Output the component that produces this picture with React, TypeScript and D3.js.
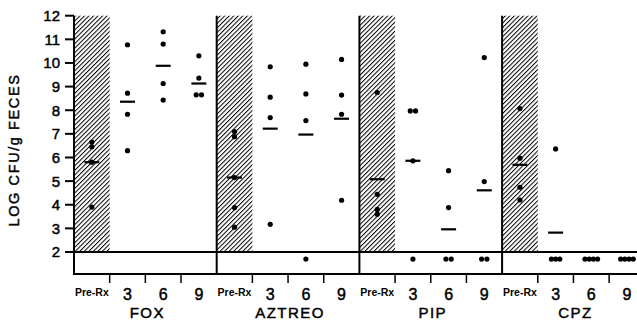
import React from "react";
import * as d3 from "d3";

const panels = ["FOX", "AZTREO", "PIP", "CPZ"];
const days = ["Pre-Rx", "3", "6", "9"];
const yTicks = [2, 3, 4, 5, 6, 7, 8, 9, 10, 11, 12];

const foxPoints = [[6.65, 6.45, 5.8, 3.9], [10.77, 8.72, 7.83, 6.29], [11.32, 10.8, 9.13, 8.43], [10.3, 9.36, 8.65, 8.65]];
const foxMeans = [5.8, 8.36, 9.88, 9.13];
const aztreoPoints = [[7.1, 6.88, 5.15, 3.88, 3.05], [9.84, 8.55, 7.69, 3.17], [9.95, 8.69, 7.56, 1.7], [10.15, 8.64, 7.83, 4.19]];
const aztreoMeans = [5.15, 7.22, 6.97, 7.64];
const pipPoints = [[8.75, 4.44, 3.8, 3.6], [7.97, 7.97, 5.86, 1.7], [5.44, 3.88, 1.7, 1.7], [10.23, 4.98, 1.7, 1.7]];
const pipMeans = [5.08, 5.86, 2.96, 4.61];
const cpzPoints = [[8.07, 5.97, 4.74, 4.2], [6.36, 1.7, 1.7, 1.7], [1.7, 1.7, 1.7, 1.7], [1.7, 1.7, 1.7, 1.7]];
const cpzMeans = [5.69, 2.82, null, null];

const allPoints = [foxPoints, aztreoPoints, pipPoints, cpzPoints];
const allMeans = [foxMeans, aztreoMeans, pipMeans, cpzMeans];

const W = 637;
const H = 321;
const left = 74;
const panelW = 142.7;
const top = 15.7;
const base = 252;
const boxBottom = 274;
const font = "'Liberation Sans', Arial, Helvetica, sans-serif";
const textStroke = { stroke: "#000", strokeWidth: 0.45 };

export default function App() {
  const y = d3.scaleLinear().domain([2, 12]).range([base, top]);
  const px = d3.scaleBand<string>().domain(panels).range([left, left + panelW * 4]).paddingInner(0).paddingOuter(0);
  const cx = d3.scaleBand<string>().domain(days).range([0, panelW]);

  return (
    <svg width={W} height={H} style={{ position: "absolute", left: 0, top: 0, background: "#fff" }}>
      <defs>
        <pattern id="hatch" patternUnits="userSpaceOnUse" width={3.2} height={3.2} patternTransform="rotate(45)">
          <rect width={3.2} height={3.2} fill="#fff" />
          <line x1={0} y1={0} x2={0} y2={3.2} stroke="#000" strokeWidth={2} />
        </pattern>
      </defs>

      {/* hatched pre-treatment columns */}
      {panels.map((p) => (
        <rect key={"h" + p} x={px(p)!} y={y(12)} width={cx.bandwidth()} height={y(2) - y(12)} fill="url(#hatch)" />
      ))}

      {/* y axis ticks */}
      {yTicks.map((t) => (
        <g key={"yt" + t}>
          <line x1={65} x2={left} y1={y(t)} y2={y(t)} stroke="#000" strokeWidth={2} />
          <text x={60} y={y(t)} dy="0.36em" textAnchor="end" fontFamily={font} fontSize={15} fill="#000" {...textStroke}>
            {t}
          </text>
        </g>
      ))}

      {/* baseline at 2 and bottom box */}
      <line x1={65} x2={W} y1={base} y2={base} stroke="#000" strokeWidth={2} />
      <line x1={left - 1} x2={W} y1={boxBottom} y2={boxBottom} stroke="#000" strokeWidth={2} />

      {/* panel separators */}
      {panels.map((p) => (
        <line key={"s" + p} x1={px(p)!} x2={px(p)!} y1={y(12)} y2={boxBottom} stroke="#000" strokeWidth={2} />
      ))}

      {/* category ticks and labels */}
      {panels.map((p) =>
        days.map((d, i) => {
          const x0 = px(p)! + cx(d)!;
          const mid = x0 + cx.bandwidth() / 2;
          return (
            <g key={"c" + p + d}>
              {i > 0 && <line x1={x0} x2={x0} y1={boxBottom} y2={283} stroke="#000" strokeWidth={1.5} />}
              {d === "Pre-Rx" ? (
                <text x={mid} y={296} textAnchor="middle" fontFamily={font} fontSize={10.5} fontWeight="bold" fill="#000">
                  {d}
                </text>
              ) : (
                <text x={mid} y={300} textAnchor="middle" fontFamily={font} fontSize={16} fill="#000" {...textStroke}>
                  {d}
                </text>
              )}
            </g>
          );
        })
      )}

      {/* panel labels */}
      {panels.map((p) => (
        <text key={"pl" + p} x={px(p)! + panelW / 2 + 2} y={318} textAnchor="middle" fontFamily={font} fontSize={15} letterSpacing={1.5} fill="#000" {...textStroke}>
          {p}
        </text>
      ))}

      {/* points */}
      {panels.map((p, pi) =>
        days.map((d, di) => {
          const vals = allPoints[pi][di];
          const mid = px(p)! + cx(d)! + cx.bandwidth() / 2;
          const counts = d3.rollup(vals, (v) => v.length, (v) => v);
          const seen = new Map<number, number>();
          const spacing = vals.filter((v) => v < 2).length > 2 ? 4.2 : 5.3;
          return vals.map((v, k) => {
            const n = counts.get(v)!;
            const idx = seen.get(v) || 0;
            seen.set(v, idx + 1);
            const off = (idx - (n - 1) / 2) * spacing;
            return <circle key={"pt" + pi + di + k} cx={mid + off} cy={y(v)} r={2.6} fill="#000" />;
          });
        })
      )}

      {/* means */}
      {panels.map((p, pi) =>
        days.map((d, di) => {
          const m = allMeans[pi][di];
          if (m === null) return null;
          const mid = px(p)! + cx(d)! + cx.bandwidth() / 2;
          return <line key={"m" + pi + di} x1={mid - 7.5} x2={mid + 7.5} y1={y(m)} y2={y(m)} stroke="#000" strokeWidth={2.2} />;
        })
      )}

      {/* y axis title */}
      <text
        transform={`translate(19,${150}) rotate(-90)`}
        textAnchor="middle"
        fontFamily={font}
        fontSize={14.5}
        letterSpacing={1.6}
        fill="#000"
        {...textStroke}
      >
        LOG CFU/g FECES
      </text>
    </svg>
  );
}
